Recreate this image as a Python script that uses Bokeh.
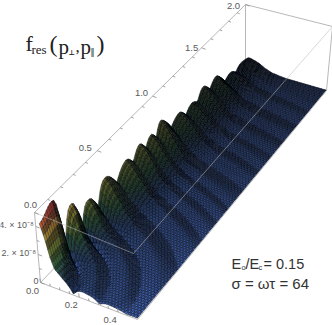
import numpy as np
from bokeh.plotting import figure
from bokeh.models import Range1d
from bokeh.core.properties import value
from bokeh.embed import file_html
from bokeh.resources import INLINE

# ---- values (crest heights in units of 1e-8) ----
perp_cols = [0, .02, .04, .06, .08, .12, .16, .24, .5]
crest_p = [.102, .24, .37, .521, .704, .828, .936, 1.03, 1.214, 1.346, 1.468, 1.612, 1.776, 1.90]
crest_z = [
    [4.4, 5.0, 3.8, 2.3, 1.4, .9, .7, .5, .15],
    [3.3, 3.5, 3.1, 2.2, 1.4, .85, .65, .45, .15],
    [2.4, 2.6, 2.4, 1.9, 1.4, .85, .65, .4, .12],
    [2.8, 2.95, 2.75, 2.35, 1.85, 1.2, .75, .35, .1],
    [2.6, 2.7, 2.55, 2.25, 1.85, 1.2, .7, .3, .08],
    [2.7, 2.85, 2.7, 2.4, 1.95, 1.2, .65, .25, .08],
    [2.6, 2.7, 2.6, 2.3, 1.9, 1.2, .65, .25, .08],
    [2.9, 3.0, 2.9, 2.5, 2.1, 1.3, .65, .25, .08],
    [2.1, 2.2, 2.1, 1.9, 1.65, 1.1, .6, .25, .08],
    [1.9, 1.95, 1.85, 1.7, 1.5, 1.0, .55, .22, .08],
    [2.2, 2.3, 2.15, 1.9, 1.65, 1.05, .55, .22, .08],
    [2.0, 2.1, 2.0, 1.8, 1.55, 1.0, .5, .2, .07],
    [1.2, 1.25, 1.2, 1.1, 1.0, .65, .35, .15, .05],
    [1.1, 1.15, 1.1, 1.0, .9, .55, .3, .12, .05],
]
valley_frac = [.08, .12, .4, .62, .72, .75, .72, .62, .72, .75, .72, .55, .7]
x_ticks = [0.0, 0.2, 0.4]
y_ticks = [0.0, 0.5, 1.0, 1.5, 2.0]
z_ticks = [0, 2, 4]
x_labels = ["0.0", "0.2", "0.4"]
y_labels = ["0.0", "0.5", "1.0", "1.5", "2.0"]
z_labels = ["0", "2. \u00d7 10\u207b\u2078", "4. \u00d7 10\u207b\u2078"]
x_minor = [0.05, 0.1, 0.15, 0.25, 0.3, 0.35, 0.45]
y_minor = [0.1, 0.2, 0.3, 0.4, 0.6, 0.7, 0.8, 0.9, 1.1, 1.2, 1.3, 1.4, 1.6, 1.7, 1.8, 1.9]
z_minor = [1, 3]
X_MIN, X_MAX, Y_MAX, Z_MAX = 0.02, 0.5, 2.0, 5.0

# ---- view box: screen positions of the box corners ----
C = {(0,0,0):(40,282),(1,0,0):(137,319),(0,1,0):(245,68),(1,1,0):(326,90),
     (0,0,1):(34,212),(1,0,1):(133,253),(0,1,1):(245,4),(1,1,1):(332,26)}
PERSP = 1.27

def proj(px, py, pz):
    u, v, w = np.asarray(px)/X_MAX, np.asarray(py)/Y_MAX, np.asarray(pz)/Z_MAX
    t = PERSP*v/(1+(PERSP-1)*v)
    out = []
    for k in (0, 1):
        r = 0
        for (a, b, c), xy in C.items():
            r = r + xy[k]*(u if a else 1-u)*(t if b else 1-t)*(w if c else 1-w)
        out.append(r)
    return out

def height(pp, ppar):
    p = np.hypot(pp, ppar)
    cz = [np.interp(pp, perp_cols, row) for row in crest_z]
    if p <= crest_p[0]:
        s = (1-np.cos(np.pi*p/crest_p[0]))/2
        return cz[0]*(.85+.15*s)
    nodes, vals = [], []
    for i, cp in enumerate(crest_p):
        nodes.append(cp); vals.append(cz[i])
        if i < len(crest_p)-1:
            nodes.append((cp+crest_p[i+1])/2)
            vals.append(valley_frac[i]*(cz[i]+cz[i+1])/2)
    nodes.append(2.1); vals.append(0.3*cz[-1])
    j = int(np.clip(np.searchsorted(nodes, p)-1, 0, len(nodes)-2))
    s = min(max((p-nodes[j])/(nodes[j+1]-nodes[j]), 0), 1)
    e = 2.6 if j < 6 else 1.8
    if j % 2 == 0:       # crest -> valley
        return vals[j+1]+(vals[j]-vals[j+1])*(1-s**e)
    return vals[j]+(vals[j+1]-vals[j])*(1-(1-s)**e)

NU, NV = 58, 140
us = np.linspace(X_MIN, X_MAX, NU+1)
vs = np.linspace(0, Y_MAX, NV+1)
Z = np.array([[height(a, b) for a in us] for b in vs])
UU, VV = np.meshgrid(us, vs)
SX, SY = proj(UU, VV, Z)

stops = [0, .03, .14, .3, .5, .7, .85, 1]
cols = np.array([(82,125,232),(62,100,190),(38,66,115),(48,100,60),(130,145,52),(195,155,55),(200,95,55),(185,40,48)], float)

xs, ys, fc = [], [], []
for j in range(NV-1, -1, -1):
    for i in range(NU):
        xs.append([SX[j,i],SX[j,i+1],SX[j+1,i+1],SX[j+1,i]])
        ys.append([SY[j,i],SY[j,i+1],SY[j+1,i+1],SY[j+1,i]])
        zc = Z[j:j+2,i:i+2].mean()/Z_MAX
        base = np.array([np.interp(zc, stops, cols[:,k]) for k in range(3)])
        dzv = (Z[j+1,i:i+2].mean()-Z[j,i:i+2].mean())/Z_MAX*70
        dzu = (Z[j:j+2,i+1].mean()-Z[j:j+2,i].mean())/Z_MAX*70
        shade = np.clip(1+np.clip(dzv*3, -.38, .1)+.04*dzu, .4, 1.2)
        lo = .5-.38*min(zc*5, 1)
        far = 1-(1-lo)*(j/NV)**.6
        stripe = 1-.33*((i+(j if zc < .12 else 0)) % 2)
        c = np.clip(base*shade*far*stripe, 0, 255).astype(int)
        fc.append("#%02x%02x%02x" % tuple(c))

p = figure(width=332, height=325, x_range=Range1d(0,332), y_range=Range1d(325,0),
           x_axis_type=None, y_axis_type=None, toolbar_location=None,
           output_backend="svg", min_border=0, outline_line_color=None)
p.grid.visible = False
GREY = "#b8b8b8"
TICK = "#8a8a8a"

def seg(a, b, **kw):
    x0, y0 = proj(*a); x1, y1 = proj(*b)
    p.line([float(x0), float(x1)], [float(y0), float(y1)], line_color=GREY, line_width=1, **kw)

# back edges
seg((0,0,0),(0,Y_MAX,0)); seg((0,Y_MAX,0),(0,Y_MAX,Z_MAX))
seg((0,Y_MAX,0),(X_MAX,Y_MAX,0))

p.patches(xs, ys, fill_color=fc, line_color="#000510", line_alpha=.62, line_width=.6)

# front / top edges
seg((0,0,0),(X_MAX,0,0)); seg((X_MAX,0,0),(X_MAX,Y_MAX,0)); seg((0,0,0),(0,0,Z_MAX))
seg((0,0,Z_MAX),(0,Y_MAX,Z_MAX)); seg((0,Y_MAX,Z_MAX),(X_MAX,Y_MAX,Z_MAX))
seg((X_MAX,Y_MAX,Z_MAX),(X_MAX,Y_MAX,0))
seg((0,0,Z_MAX),(X_MAX,0,Z_MAX), line_alpha=.55); seg((X_MAX,0,Z_MAX),(X_MAX,Y_MAX,Z_MAX), line_alpha=.55)

LAB = "#5a5a5a"
def label(x, y, s, size="9.5px", font="Liberation Sans", color=LAB, align="center", style="normal"):
    p.text([x], [y], text=[s], text_font=value(font), text_font_size=value(size), text_color=color,
           text_align=align, text_baseline="middle", text_font_style=style)

def tick(px, py, pz, dx, dy):
    a, b = proj(px, py, pz)
    p.line([float(a), float(a)+dx], [float(b), float(b)+dy], line_color=TICK, line_width=.8)

# ticks
for v, s in zip(x_ticks, x_labels):
    tick(v, 0, 0, -.7, -4)
    a, b = proj(v, 0, 0)
    label(float(a)-8, float(b)+8, s)
for v in x_minor:
    tick(v, 0, 0, -.4, -2.5)
y_dx, y_dy = [-4, -12, -11, -10, -12], [-8, -3, -3, 0, 1]
for v, s, dx, dy in zip(y_ticks, y_labels, y_dx, y_dy):
    tick(0, v, Z_MAX, 4, 1.6)
    a, b = proj(0, v, Z_MAX)
    label(float(a)+dx, float(b)+dy, s)
for v in y_minor:
    tick(0, v, Z_MAX, 2.5, 1)
for v, s in zip(z_ticks, z_labels):
    tick(0, 0, v, 4, 1.5)
    a, b = proj(0, 0, v)
    label(float(a)-2, float(b)-2, s, size="9px", align="right")
for v in z_minor:
    tick(0, 0, v, 2.5, 1)

# title and annotation
DK = "#333333"
SER = "Liberation Serif"
label(25, 43, "f", "22px", SER, "#222222", "left")
label(31, 49, "res", "13px", SER, "#222222", "left")
label(49, 43, "(", "24px", SER, "#222222", "left")
label(58, 46, "p", "21px", SER, "#222222", "left")
label(68, 52, "\u22a5", "7px", "DejaVu Sans", "#222222", "left", "bold")
label(75, 46, ",", "17px", SER, "#222222", "left")
label(80, 46, "p", "21px", SER, "#222222", "left")
label(90, 52, "\u2016", "8px", "DejaVu Sans", "#222222", "left")
label(96, 43, ")", "24px", SER, "#222222", "left")

label(231, 263, "E", "14.5px", "Liberation Sans", DK, "left")
label(241, 267, "o", "7.5px", "Liberation Sans", DK, "left")
label(245, 263, "/E", "14.5px", "Liberation Sans", DK, "left")
label(258, 267, "c", "7.5px", "Liberation Sans", DK, "left")
label(263, 263, "= 0.15", "14.5px", "Liberation Sans", DK, "left")
label(231, 283, "\u03c3 = \u03c9\u03c4 = 64", "15px", "Liberation Sans", DK, "left")

html = file_html(p, INLINE)
html = html.replace("<head>", "<head><style>html,body{margin:0;padding:0;overflow:hidden}</style>", 1)
open("out.html", "w").write(html)
